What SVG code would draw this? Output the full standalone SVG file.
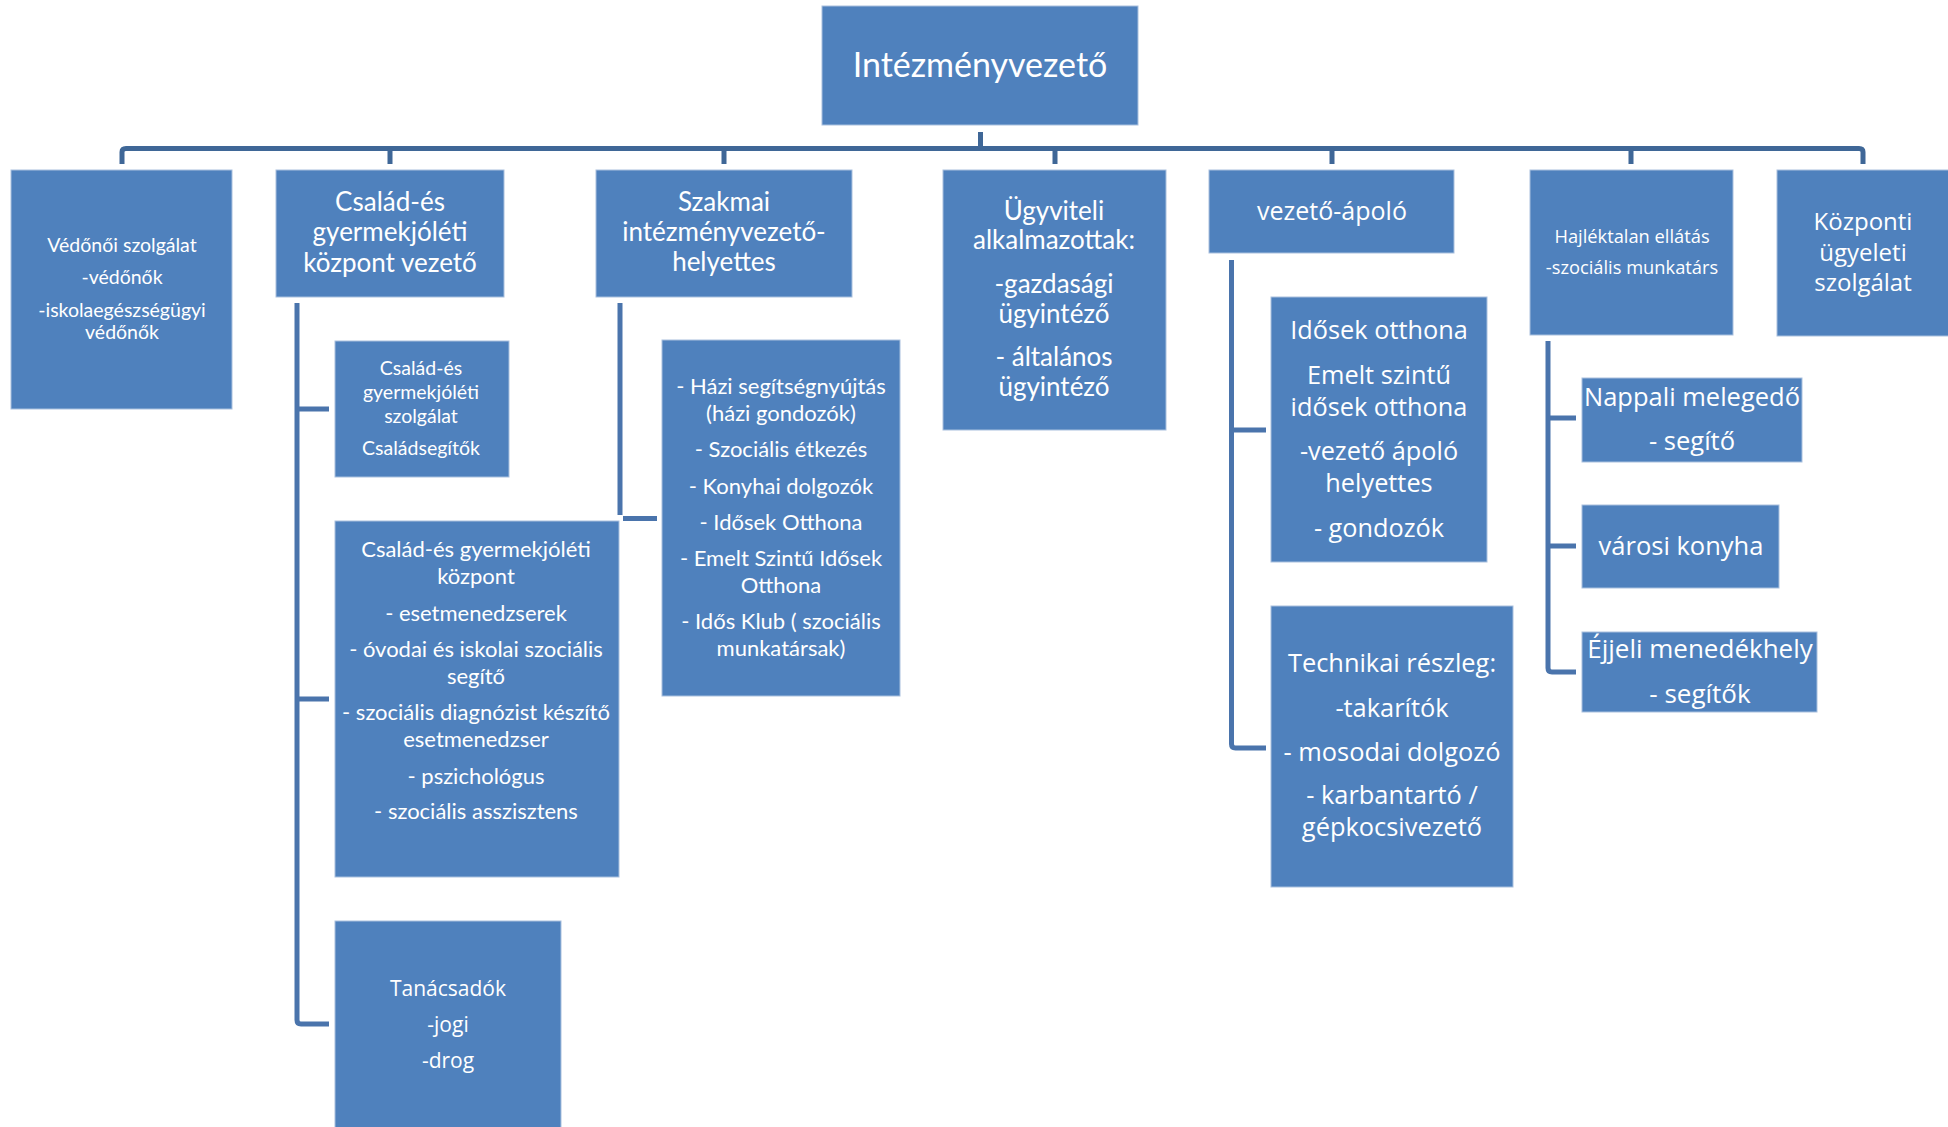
<svg xmlns="http://www.w3.org/2000/svg" width="1948" height="1127" viewBox="0 0 1948 1127">
<style>
.box{fill:#4F81BD;stroke:#A9C0DE;stroke-width:1}
.c{font-family:Lato,"Liberation Sans",sans-serif;fill:#FFFFFF;text-anchor:middle}
.o{font-family:"Open Sans","Liberation Sans",sans-serif;fill:#FFFFFF;text-anchor:middle}
.bus{stroke:#3F6797;stroke-width:5;fill:none}
.sp{stroke:#4A74AC;stroke-width:5;fill:none}
</style>
<rect width="1948" height="1127" fill="#FFFFFF"/>
<g id="connectors">
<path class="bus" d="M122,164 V152 Q122,148.5 126,148.5 H1859 Q1863,148.5 1863,152 V164"/>
<path class="bus" d="M980.5,132 V148.5 M390,148.5 V164 M724,148.5 V164 M1055,148.5 V164 M1332,148.5 V164 M1631,148.5 V164"/>
<path class="sp" d="M297,303 V1020 Q297,1024 301,1024 H329 M297,409 H329 M297,699 H329"/>
<path class="sp" d="M620,303 V515 M623,518.5 H657"/>
<path class="sp" d="M1231.5,260 V744 Q1231.5,748 1235.5,748 H1266 M1231.5,430 H1266"/>
<path class="sp" d="M1548,341 V668 Q1548,672 1552,672 H1576 M1548,418 H1576 M1548,546 H1576"/>
</g>
<g id="intezmenyvezeto">
<rect class="box" x="822" y="6" width="316" height="119"/>
<text class="c" x="980" y="77" font-size="34">Intézményvezető</text>
</g>
<g id="vedonoi">
<rect class="box" x="11" y="170" width="221" height="239"/>
<text class="c" font-size="19.5"><tspan x="122" y="252">Védőnői szolgálat</tspan><tspan x="122" y="284">-védőnők</tspan><tspan x="122" y="317">-iskolaegészségügyi</tspan><tspan x="122" y="339">védőnők</tspan></text>
</g>
<g id="csaladvezeto">
<rect class="box" x="276" y="170" width="228" height="127"/>
<text class="c" font-size="26"><tspan x="390" y="211">Család-és</tspan><tspan x="390" y="241">gyermekjóléti</tspan><tspan x="390" y="272">központ vezető</tspan></text>
</g>
<g id="szakmai">
<rect class="box" x="596" y="170" width="256" height="127"/>
<text class="c" font-size="26"><tspan x="724" y="211">Szakmai</tspan><tspan x="724" y="241">intézményvezető-</tspan><tspan x="724" y="271">helyettes</tspan></text>
</g>
<g id="ugyviteli">
<rect class="box" x="943" y="170" width="223" height="260"/>
<text class="c" font-size="26"><tspan x="1054" y="220">Ügyviteli</tspan><tspan x="1054" y="249">alkalmazottak:</tspan><tspan x="1054" y="293">-gazdasági</tspan><tspan x="1054" y="323">ügyintéző</tspan><tspan x="1054" y="366">- általános</tspan><tspan x="1054" y="396">ügyintéző</tspan></text>
</g>
<g id="vezetoapolo">
<rect class="box" x="1209" y="170" width="245" height="83"/>
<text class="o" x="1332" y="220" font-size="25">vezető-ápoló</text>
</g>
<g id="hajlektalan">
<rect class="box" x="1530" y="170" width="203" height="165"/>
<text class="o" font-size="18.3"><tspan x="1632" y="243">Hajléktalan ellátás</tspan><tspan x="1632" y="274">-szociális munkatárs</tspan></text>
</g>
<g id="kozponti">
<rect class="box" x="1777" y="170" width="175" height="166"/>
<text class="o" font-size="24"><tspan x="1863" y="230">Központi</tspan><tspan x="1863" y="261">ügyeleti</tspan><tspan x="1863" y="291">szolgálat</tspan></text>
</g>
<g id="csaladszolgalat">
<rect class="box" x="335" y="341" width="174" height="136"/>
<text class="c" font-size="19.5"><tspan x="421" y="375">Család-és</tspan><tspan x="421" y="399">gyermekjóléti</tspan><tspan x="421" y="423">szolgálat</tspan><tspan x="421" y="455">Családsegítők</tspan></text>
</g>
<g id="csaladkozpont">
<rect class="box" x="335" y="521" width="284" height="356"/>
<text class="c" font-size="22"><tspan x="476" y="557">Család-és gyermekjóléti</tspan><tspan x="476" y="584">központ</tspan><tspan x="476" y="621">- esetmenedzserek</tspan><tspan x="476" y="657">- óvodai és iskolai szociális</tspan><tspan x="476" y="684">segítő</tspan><tspan x="476" y="720">- szociális diagnózist készítő</tspan><tspan x="476" y="747">esetmenedzser</tspan><tspan x="476" y="784">- pszichológus</tspan><tspan x="476" y="819">- szociális asszisztens</tspan></text>
</g>
<g id="tanacsadok">
<rect class="box" x="335" y="921" width="226" height="212"/>
<text class="o" font-size="21"><tspan x="448" y="996">Tanácsadók</tspan><tspan x="448" y="1032">-jogi</tspan><tspan x="448" y="1068">-drog</tspan></text>
</g>
<g id="hazi">
<rect class="box" x="662" y="340" width="238" height="356"/>
<text class="c" font-size="22"><tspan x="781" y="394">- Házi segítségnyújtás</tspan><tspan x="781" y="421">(házi gondozók)</tspan><tspan x="781" y="457">- Szociális étkezés</tspan><tspan x="781" y="494">- Konyhai dolgozók</tspan><tspan x="781" y="530">- Idősek Otthona</tspan><tspan x="781" y="566">- Emelt Szintű Idősek</tspan><tspan x="781" y="593">Otthona</tspan><tspan x="781" y="629">- Idős Klub ( szociális</tspan><tspan x="781" y="656">munkatársak)</tspan></text>
</g>
<g id="idosek">
<rect class="box" x="1271" y="297" width="216" height="265"/>
<text class="o" font-size="25.3"><tspan x="1379" y="339">Idősek otthona</tspan><tspan x="1379" y="384">Emelt szintű</tspan><tspan x="1379" y="416">idősek otthona</tspan><tspan x="1379" y="460">-vezető ápoló</tspan><tspan x="1379" y="492">helyettes</tspan><tspan x="1379" y="537">- gondozók</tspan></text>
</g>
<g id="technikai">
<rect class="box" x="1271" y="606" width="242" height="281"/>
<text class="o" font-size="25.4"><tspan x="1392" y="672">Technikai részleg:</tspan><tspan x="1392" y="717">-takarítók</tspan><tspan x="1392" y="761">- mosodai dolgozó</tspan><tspan x="1392" y="804">- karbantartó /</tspan><tspan x="1392" y="836">gépkocsivezető</tspan></text>
</g>
<g id="nappali">
<rect class="box" x="1582" y="378" width="220" height="84"/>
<text class="o" font-size="25.5"><tspan x="1692" y="406">Nappali melegedő</tspan><tspan x="1692" y="450">- segítő</tspan></text>
</g>
<g id="varosikonyha">
<rect class="box" x="1582" y="505" width="197" height="83"/>
<text class="o" x="1681" y="555" font-size="25.5">városi konyha</text>
</g>
<g id="ejjeli">
<rect class="box" x="1582" y="632" width="235" height="80"/>
<text class="o" font-size="26"><tspan x="1700" y="658">Éjjeli menedékhely</tspan><tspan x="1700" y="703">- segítők</tspan></text>
</g>
</svg>
